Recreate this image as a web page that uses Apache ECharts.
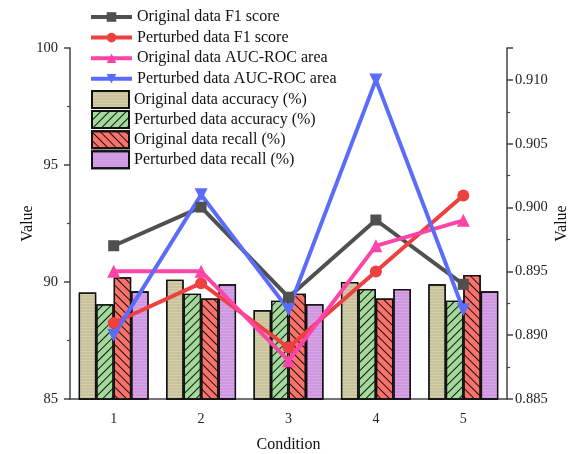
<!DOCTYPE html>
<html><head><meta charset="utf-8">
<script src="https://cdn.jsdelivr.net/npm/echarts@6/dist/echarts.min.js"></script>
<style>html,body{margin:0;padding:0;background:#fff;overflow:hidden}#c{width:576px;height:454px}</style>
</head><body><div id="c"></div>
<script>
const categories = ['1','2','3','4','5'];
const origF1 = [91.55, 93.2, 89.35, 92.65, 89.9];
const pertF1 = [88.25, 89.95, 87.2, 90.45, 93.7];
const origAUC = [0.895, 0.895, 0.888, 0.897, 0.899];
const pertAUC = [0.890, 0.901, 0.892, 0.910, 0.892];
const origAcc = [89.55, 90.1, 88.8, 90.0, 89.9];
const pertAcc = [89.05, 89.5, 89.2, 89.7, 89.2];
const origRecall = [90.2, 89.3, 89.5, 89.3, 90.3];
const pertRecall = [89.6, 89.9, 89.05, 89.7, 89.6];
const leftTicks = {min: 85, max: 100, interval: 5};
const rightTicks = {min: 0.885, max: 0.9125, interval: 0.005};

const FONT = 'Liberation Serif';
const chart = echarts.init(document.getElementById('c'), null, {width:576, height:454});
const axisColor = '#444';
const hatch = (rot) => ({symbol:'rect', symbolSize:1, dashArrayX:[[1,0]], dashArrayY:[1,5], rotation: rot, color:'#111'});
function barSeries(name, data, color, decal){
  const s = {name, type:'bar', data, yAxisIndex:0, barGap:'0%', barCategoryGap:'20%',
    itemStyle:{color, borderColor:'#111', borderWidth:1.3}};
  if (decal) s.itemStyle.decal = decal;
  return s;
}
function lineSeries(name, data, color, symbol, size, axis, rotate){
  return {name, type:'line', data, yAxisIndex:axis, symbol, symbolSize:size, symbolRotate:rotate||0,
    lineStyle:{color, width:4}, itemStyle:{color}, z:5};
}
const lineNames = ['Original data F1 score','Perturbed data F1 score','Original data AUC-ROC area','Perturbed data AUC-ROC area'];
const barNames = ['Original data accuracy (%)','Perturbed data accuracy (%)','Original data recall (%)','Perturbed data recall (%)'];
chart.setOption({
  animation:false,
  textStyle:{fontFamily:FONT},
  grid:{left:70, right:69, top:48, bottom:55, containLabel:false, outerBoundsMode:'none'},
  legend:[
    {data:lineNames, orient:'vertical', left:89, top:9, padding:0, itemWidth:41, itemHeight:12, itemGap:4.6,
      lineStyle:{width:4}, textStyle:{fontFamily:FONT, fontSize:16, color:'#111'}},
    {data:barNames, orient:'vertical', left:91, top:90, padding:0, itemWidth:37, itemHeight:17, itemGap:1.1, icon:'rect',
      textStyle:{fontFamily:FONT, fontSize:16, color:'#111'}}
  ],
  xAxis:{type:'category', data:categories, name:'Condition', nameLocation:'middle', nameGap:38,
    nameTextStyle:{fontFamily:FONT, fontSize:16, color:'#111'},
    axisLine:{lineStyle:{color:axisColor, width:1.5}},
    axisTick:{alignWithLabel:true, length:6, lineStyle:{color:axisColor, width:1.5}},
    axisLabel:{fontFamily:FONT, fontSize:14, color:'#222', margin:13}},
  yAxis:[
    {type:'value', min:leftTicks.min, max:leftTicks.max, interval:leftTicks.interval, name:'Value',
      nameLocation:'middle', nameGap:34, nameMoveOverlap:false, nameTextStyle:{fontFamily:FONT, fontSize:16, color:'#111'},
      axisLine:{show:true, lineStyle:{color:axisColor, width:1.5}},
      axisTick:{show:true, length:6, lineStyle:{color:axisColor, width:1.5}},
      minorTick:{show:true, splitNumber:2, length:3, lineStyle:{color:axisColor, width:1.2}},
      splitLine:{show:false},
      axisLabel:{fontFamily:FONT, fontSize:14.5, color:'#222', margin:12}},
    {type:'value', position:'right', min:rightTicks.min, max:rightTicks.max, interval:rightTicks.interval, name:'Value',
      nameLocation:'middle', nameGap:47, nameMoveOverlap:false, nameTextStyle:{fontFamily:FONT, fontSize:16, color:'#111'},
      axisLine:{show:true, lineStyle:{color:axisColor, width:1.5}},
      axisTick:{show:true, length:6, lineStyle:{color:axisColor, width:1.5}},
      minorTick:{show:true, splitNumber:2, length:3, lineStyle:{color:axisColor, width:1.2}},
      splitLine:{show:false},
      axisLabel:{fontFamily:FONT, fontSize:14.5, color:'#222', margin:8, showMaxLabel:false,
        formatter:v=>v.toFixed(3)}}
  ],
  series:[
    barSeries(barNames[0], origAcc, '#c9c39b', {symbol:'rect', symbolSize:1, dashArrayX:[[1,0]], dashArrayY:[1,2], color:'rgba(255,255,255,0.18)'}),
    barSeries(barNames[1], pertAcc, '#a3d99b', hatch(-Math.PI/4)),
    barSeries(barNames[2], origRecall, '#fa7269', hatch(Math.PI/4)),
    barSeries(barNames[3], pertRecall, '#cf96e2', {symbol:'rect', symbolSize:1, dashArrayX:[[1,0]], dashArrayY:[1,2], color:'rgba(255,255,255,0.15)'}),
    lineSeries(lineNames[0], origF1, '#505050', 'rect', 11, 0),
    lineSeries(lineNames[1], pertF1, '#ee4040', 'circle', 12, 0),
    lineSeries(lineNames[2], origAUC, '#ff44a8', 'triangle', 13, 1),
    lineSeries(lineNames[3], pertAUC, '#5b6cfa', 'triangle', 13, 1, 180)
  ]
});
</script></body></html>
